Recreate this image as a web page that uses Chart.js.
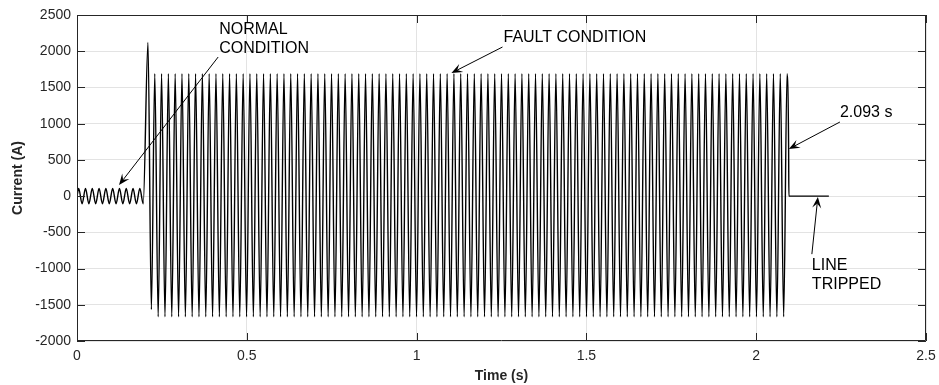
<!DOCTYPE html>
<html><head><meta charset="utf-8">
<script src="https://cdn.jsdelivr.net/npm/chart.js@4.4.0/dist/chart.umd.min.js"></script>
<style>html,body{margin:0;padding:0;background:#fff;} canvas{display:block;}</style>
</head><body>
<canvas id="c" width="939" height="385"></canvas>
<script>
// ---- axis ticks ----
const xTickValues = [0, 0.5, 1, 1.5, 2, 2.5];
const yTickValues = [-2000, -1500, -1000, -500, 0, 500, 1000, 1500, 2000, 2500];

// ---- normal condition (50 Hz, half-cycle peaks) ----
const normalInitial = [0];                 // value at t = 0
const normalStartTime = 0.005;
const normalHalfCycle = 0.01;
const normalPeaks = [105,-105,105,-105,105,-105,105,-105,105,-105,
                     105,-105,105,-105,105,-105,105,-105,105,-105];

// ---- fault condition (half-cycle peaks) ----
const faultStartTime = 0.209;
const faultHalfCycle = 0.01001;
const faultPeaks = [2120,-1565,
 1690,-1665,1690,-1665,1690,-1665,1690,-1665,1690,-1665,1690,-1665,1690,-1665,1690,-1665,1690,-1665,1690,-1665,
 1690,-1665,1690,-1665,1690,-1665,1690,-1665,1690,-1665,1690,-1665,1690,-1665,1690,-1665,1690,-1665,1690,-1665,
 1690,-1665,1690,-1665,1690,-1665,1690,-1665,1690,-1665,1690,-1665,1690,-1665,1690,-1665,1690,-1665,1690,-1665,
 1690,-1665,1690,-1665,1690,-1665,1690,-1665,1690,-1665,1690,-1665,1690,-1665,1690,-1665,1690,-1665,1690,-1665,
 1690,-1665,1690,-1665,1690,-1665,1690,-1665,1690,-1665,1690,-1665,1690,-1665,1690,-1665,1690,-1665,1690,-1665,
 1690,-1665,1690,-1665,1690,-1665,1690,-1665,1690,-1665,1690,-1665,1690,-1665,1690,-1665,1690,-1665,1690,-1665,
 1690,-1665,1690,-1665,1690,-1665,1690,-1665,1690,-1665,1690,-1665,1690,-1665,1690,-1665,1690,-1665,1690,-1665,
 1690,-1665,1690,-1665,1690,-1665,1690,-1665,1690,-1665,1690,-1665,1690,-1665,1690,-1665,1690,-1665,1690,-1665,
 1690,-1665,1690,-1665,1690,-1665,1690,-1665,1690,-1665,1690,-1665,1690,-1665,1690,-1665,1690,-1665,1690,-1665,
 1690,-1665,1690,-1665,1690,-1665,
 1690];

// ---- breaker trip ----
const tripTimes  = [2.0955, 2.0962, 2.214];
const tripValues = [650, 0, 0];

// ---- annotations (text lines, text anchor and arrow tail/tip in data units) ----
const annotationTexts = [["NORMAL", "CONDITION"], ["FAULT CONDITION"], ["2.093 s"], ["LINE", "TRIPPED"]];
const annotationAnchors = [[0.4186, 2238], [1.2559, 2127], [2.2465, 1092], [2.1639, -1023]];
const arrowTails = [[0.4157, 1920], [1.2529, 2058], [2.2465, 1023], [2.1639, -801]];
const arrowTips  = [[0.1238, 153], [1.1026, 1699], [2.0961, 650], [2.1816, -12]];

// build the series
const points = [];
normalInitial.forEach(v => points.push({x: 0, y: v}));
normalPeaks.forEach((v, i) => points.push({x: normalStartTime + i * normalHalfCycle, y: v}));
faultPeaks.forEach((v, i) => points.push({x: faultStartTime + i * faultHalfCycle, y: v}));
tripTimes.forEach((t, i) => points.push({x: t, y: tripValues[i]}));

const FONT = "'Liberation Sans', Arial, sans-serif";
const TICK_LEN = 8;

const framePlugin = {
  id: 'frame',
  afterDatasetsDraw(chart) {
    const {ctx, chartArea: a, scales} = chart;
    ctx.save();
    ctx.strokeStyle = '#262626';
    ctx.lineWidth = 1;
    ctx.beginPath();
    ctx.rect(Math.round(a.left) + 0.5, Math.round(a.top) + 0.5,
             Math.round(a.right - a.left) - 1, Math.round(a.bottom - a.top) - 1);
    ctx.stroke();
    ctx.beginPath();
    xTickValues.forEach(v => {
      const px = Math.round(scales.x.getPixelForValue(v)) + 0.5;
      ctx.moveTo(px, a.bottom); ctx.lineTo(px, a.bottom - TICK_LEN);
      ctx.moveTo(px, a.top); ctx.lineTo(px, a.top + TICK_LEN);
    });
    yTickValues.forEach(v => {
      const py = Math.round(scales.y.getPixelForValue(v)) + 0.5;
      ctx.moveTo(a.left, py); ctx.lineTo(a.left + TICK_LEN, py);
      ctx.moveTo(a.right, py); ctx.lineTo(a.right - TICK_LEN, py);
    });
    ctx.stroke();
    ctx.restore();
  },
  afterDraw(chart) {
    const {ctx, scales} = chart;
    const X = v => scales.x.getPixelForValue(v);
    const Y = v => scales.y.getPixelForValue(v);
    ctx.save();
    ctx.fillStyle = '#000';
    ctx.strokeStyle = '#000';
    ctx.font = '16px ' + FONT;
    ctx.textAlign = 'left';
    ctx.textBaseline = 'alphabetic';
    annotationTexts.forEach((lines, k) => {
      const x0 = X(annotationAnchors[k][0]);
      const y0 = Y(annotationAnchors[k][1]);
      lines.forEach((s, j) => ctx.fillText(s, x0, y0 + j * 19));
      // arrow
      const tx = X(arrowTails[k][0]), ty = Y(arrowTails[k][1]);
      const hx = X(arrowTips[k][0]), hy = Y(arrowTips[k][1]);
      const dx = hx - tx, dy = hy - ty, len = Math.hypot(dx, dy);
      const ux = dx / len, uy = dy / len, nx = -uy, ny = ux;
      const L = 11, W = 4.5;
      ctx.lineWidth = 1;
      ctx.beginPath();
      ctx.moveTo(tx, ty);
      ctx.lineTo(hx - ux * L * 0.6, hy - uy * L * 0.6);
      ctx.stroke();
      ctx.beginPath();
      ctx.moveTo(hx, hy);
      ctx.lineTo(hx - ux * L + nx * W, hy - uy * L + ny * W);
      ctx.lineTo(hx - ux * L * 0.6, hy - uy * L * 0.6);
      ctx.lineTo(hx - ux * L - nx * W, hy - uy * L - ny * W);
      ctx.closePath();
      ctx.fill();
    });
    ctx.restore();
  }
};

new Chart(document.getElementById('c'), {
  type: 'line',
  data: {
    datasets: [{
      data: points,
      borderColor: '#000',
      borderWidth: 1.4,
      pointRadius: 0,
      fill: false,
      cubicInterpolationMode: 'monotone'
    }]
  },
  options: {
    responsive: false,
    animation: false,
    devicePixelRatio: 1,
    layout: { padding: { left: 0, top: 15, right: 13, bottom: 0 } },
    plugins: { legend: { display: false }, tooltip: { enabled: false } },
    scales: {
      x: {
        type: 'linear', min: 0, max: 2.5,
        afterBuildTicks: s => { s.ticks = xTickValues.map(v => ({value: v})); },
        afterFit: s => { s.height = 44; s.paddingLeft = 0; s.paddingRight = 0; },
        grid: { color: '#e3e3e3', drawTicks: false, tickLength: 0 },
        border: { display: false },
        ticks: { color: '#262626', padding: 7, font: { family: FONT, size: 14 }, maxRotation: 0,
                 callback: v => String(v) },
        title: { display: true, text: 'Time (s)', color: '#262626', padding: { top: 0, bottom: 0 },
                 font: { family: FONT, size: 14, weight: 'bold' } }
      },
      y: {
        type: 'linear', min: -2000, max: 2500,
        afterBuildTicks: s => { s.ticks = yTickValues.map(v => ({value: v})); },
        afterFit: s => { s.width = 77; s.paddingTop = 0; s.paddingBottom = 0; },
        grid: { color: '#e3e3e3', drawTicks: false, tickLength: 0 },
        border: { display: false },
        ticks: { color: '#262626', padding: 6, font: { family: FONT, size: 14 },
                 callback: v => String(v) },
        title: { display: true, text: 'Current (A)', color: '#262626', padding: { top: 10, bottom: 0 },
                 font: { family: FONT, size: 14, weight: 'bold' } }
      }
    }
  },
  plugins: [framePlugin]
});
</script>
</body></html>
